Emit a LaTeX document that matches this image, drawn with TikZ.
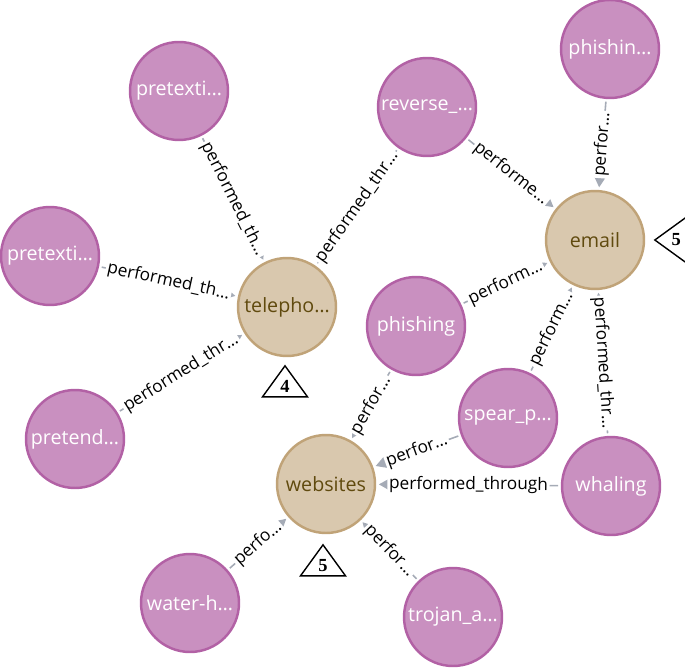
\documentclass[tikz,border=0pt]{standalone}
\usepackage{fontspec}
\setmainfont{Open Sans}
\newfontfamily\badgefont{Liberation Serif}
\usepackage{tikz}
\usetikzlibrary{shapes.geometric, arrows.meta}
\definecolor{attackfill}{RGB}{201,144,192}
\definecolor{attackline}{RGB}{178,97,165}
\definecolor{channelfill}{RGB}{217,200,174}
\definecolor{channelline}{RGB}{192,163,120}
\definecolor{channeltext}{RGB}{96,74,14}
\definecolor{relgray}{RGB}{165,171,182}
\tikzset{
  attack/.style={circle, draw=attackline, fill=attackfill,
    minimum size=1.96cm, inner sep=0pt, line width=1.4pt,
    text=white, font=\fontsize{11.2}{13}\selectfont},
  channel/.style={circle, draw=channelline, fill=channelfill,
    minimum size=1.96cm, inner sep=0pt, line width=1.4pt,
    text=channeltext, font=\fontsize{11.2}{13}\selectfont},
  rel/.style={-{Triangle[length=0.24cm, width=0.26cm]}, color=relgray,
    line width=0.9pt, shorten >=1.5pt, shorten <=1.5pt},
  rellabel/.style={midway, sloped, fill=white, text=black, inner sep=1pt,
    font=\fontsize{9.8}{11}\selectfont},
  badge/.style={isosceles triangle, isosceles triangle stretches,
    draw=black, fill=white, line width=0.8pt, inner sep=0pt,
    minimum width=0.9cm, minimum height=0.62cm,
    font=\badgefont\bfseries\fontsize{10.5}{12}\selectfont}
}

\begin{document}
\begin{tikzpicture}[x=0.02cm, y=-0.02cm]
  \useasboundingbox (0,0) rectangle (685,668);
  % channels
  \node[channel] (telephone) at (287,307) {telepho…};
  \node[channel] (email) at (595,240) {email};
  \node[channel] (websites) at (326,484) {websites};
  % attacks
  \node[attack] (pretext1) at (179,91) {pretexti…};
  \node[attack] (pretext2) at (50,256) {pretexti…};
  \node[attack] (pretend) at (75,439) {pretend…};
  \node[attack] (reverse) at (427,107) {reverse\_…};
  \node[attack] (phishin) at (610,49) {phishin…};
  \node[attack] (phishing) at (416,326) {phishing};
  \node[attack] (spear) at (508,418) {spear\_p…};
  \node[attack] (whaling) at (611,486) {whaling};
  \node[attack] (water) at (190,603) {water-h…};
  \node[attack] (trojan) at (453,617) {trojan\_a…};
  % relations
  \foreach \src/\dst/\txt in {pretext1/telephone/performed\_th…,
      pretext2/telephone/performed\_th…, pretend/telephone/performed\_thr…,
      reverse/telephone/performed\_thr…, reverse/email/performe…,
      phishin/email/perfor…, phishing/email/perform…,
      spear/email/perform…, whaling/email/performed\_thr…,
      phishing/websites/perfor…, spear/websites/perfor…,
      whaling/websites/performed\_through, water/websites/perfo…,
      trojan/websites/perfor…} {
    \draw[rel] (\src) -- node[rellabel] {\txt} (\dst);
  }
  % counts
  \node[badge, shape border rotate=90, anchor=apex] (count4) at (285,364) {4};
  \node[badge, shape border rotate=90, anchor=apex] (countweb) at (323,543) {5};
  \node[badge, shape border rotate=180, anchor=apex] (countmail) at (653,240) {5};
\end{tikzpicture}
\end{document}
